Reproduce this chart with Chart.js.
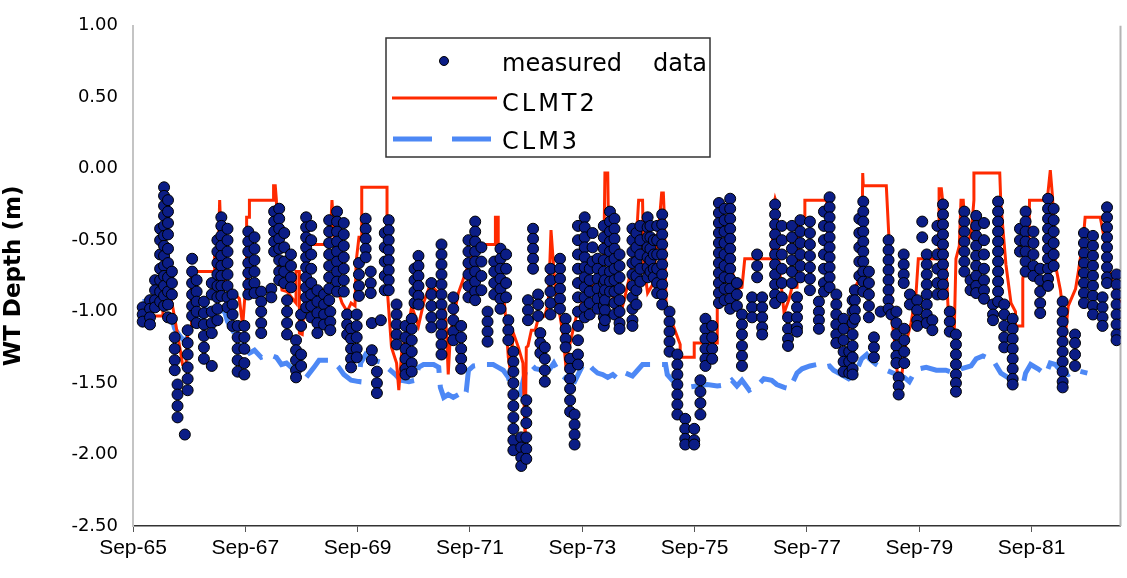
<!DOCTYPE html>
<html>
<head>
<meta charset="utf-8">
<script src="https://cdn.jsdelivr.net/npm/chart.js@4.4.1/dist/chart.umd.min.js"></script>
<style>
  html, body { margin: 0; padding: 0; background: #fff; }
  #wrap { width: 1127px; height: 578px; }
</style>
</head>
<body>
<div id="wrap"><canvas id="wtChart" width="1127" height="578"></canvas></div>
<script>
// x axis ticks (decimal years, Sep of odd years)
const xTickValues = [1965.667, 1967.667, 1969.667, 1971.667, 1973.667, 1975.667, 1977.667, 1979.667, 1981.667];
const xTickLabels = ['Sep-65', 'Sep-67', 'Sep-69', 'Sep-71', 'Sep-73', 'Sep-75', 'Sep-77', 'Sep-79', 'Sep-81'];

// measured data: each row is [year, depth, depth, ...] (observations bunched in time)
const measured1965 = [
  [1965.84, -0.97, -1.02, -1.07],
  [1965.97, -0.92, -0.98, -1.04, -1.09],
  [1966.06, -0.78, -0.85, -0.92, -0.97],
  [1966.15, -0.42, -0.50, -0.60, -0.70, -0.78, -0.86, -0.93],
  [1966.22, -0.13, -0.19, -0.26, -0.33, -0.40, -0.47, -0.54, -0.61, -0.68, -0.75, -0.82, -0.89, -0.96],
  [1966.29, -0.22, -0.30, -0.38, -0.46, -0.56, -0.66, -0.76, -0.86, -0.95, -1.04],
  [1966.36, -0.72, -0.80, -0.88, -1.05],
  [1966.41, -1.18, -1.26, -1.34, -1.41],
  [1966.46, -1.51, -1.58, -1.66, -1.74],
  [1966.59, -1.86],
  [1966.64, -1.13, -1.22, -1.30, -1.39, -1.47, -1.55],
  [1966.72, -0.63, -0.72, -0.80, -0.88, -0.96, -1.03],
  [1966.80, -0.78, -0.86, -0.93, -1.00, -1.08],
  [1966.93, -0.93, -1.01, -1.09, -1.17, -1.25, -1.33],
  [1967.07, -0.80, -0.88, -1.00, -1.08, -1.15, -1.38],
  [1967.17, -0.50, -0.58, -0.66, -0.74, -0.82, -0.90, -0.98, -1.06],
  [1967.24, -0.34, -0.40, -0.47, -0.54, -0.61, -0.68, -0.75, -0.82, -0.89],
  [1967.35, -0.42, -0.50, -0.58, -0.66, -0.74, -0.82, -0.90, -0.97],
  [1967.44, -0.88, -0.95, -1.02, -1.10],
  [1967.53, -1.10, -1.18, -1.26, -1.34, -1.42],
  [1967.65, -1.10, -1.18, -1.26, -1.36, -1.44],
  [1967.72, -0.44, -0.51, -0.58, -0.66, -0.73, -0.81, -0.88],
  [1967.83, -0.48, -0.56, -0.64, -0.72, -0.80, -0.87],
  [1967.95, -0.86, -0.93, -1.00, -1.08, -1.15],
  [1968.13, -0.84, -0.90],
  [1968.18, -0.30, -0.37, -0.44, -0.51, -0.58],
  [1968.27, -0.28, -0.35, -0.42, -0.49, -0.56, -0.64, -0.72, -0.78],
  [1968.36, -0.45, -0.55, -0.65, -0.72, -0.80],
  [1968.41, -0.92, -1.00, -1.08, -1.16],
  [1968.48, -0.60, -0.68, -0.76, -0.83],
  [1968.57, -1.20, -1.27, -1.34, -1.41, -1.46],
  [1968.66, -1.02, -1.10, -1.30, -1.38],
  [1968.75, -0.34, -0.41, -0.48, -0.55, -0.62, -0.69, -0.76, -0.83, -0.90, -0.97],
  [1968.84, -0.40, -0.50, -0.60, -0.70, -0.80, -0.88, -0.96, -1.04],
  [1968.95, -0.85, -0.93, -1.01, -1.08, -1.15],
  [1969.07, -0.88, -0.95, -1.02, -1.09]
];
const measured1969 = [
  [1969.16, -0.36, -0.44, -0.52, -0.60, -0.68, -0.76, -0.84, -0.92],
  [1969.18, -1.00, -1.07, -1.13],
  [1969.30, -0.30, -0.37, -0.44, -0.51, -0.58, -0.65, -0.72, -0.79, -0.86],
  [1969.42, -0.38, -0.46, -0.54, -0.62, -0.70, -0.78, -0.86],
  [1969.48, -1.02, -1.09, -1.16],
  [1969.55, -1.12, -1.19, -1.26, -1.33, -1.39],
  [1969.65, -1.02, -1.10, -1.18, -1.26, -1.32],
  [1969.69, -0.66, -0.74, -0.82, -0.89],
  [1969.81, -0.35, -0.42, -0.49, -0.56, -0.62],
  [1969.90, -0.72, -0.80, -0.87],
  [1969.92, -1.08, -1.27, -1.34],
  [1970.01, -1.42, -1.50, -1.57],
  [1970.08, -1.06],
  [1970.15, -0.45, -0.55, -0.65, -0.75, -0.85],
  [1970.22, -0.36, -0.43, -0.50, -0.57, -0.64, -0.71, -0.78, -0.85],
  [1970.36, -0.95, -1.02, -1.09, -1.16, -1.23],
  [1970.52, -1.10, -1.18, -1.26, -1.33, -1.40, -1.44],
  [1970.63, -1.05, -1.12, -1.20, -1.28, -1.36, -1.42],
  [1970.68, -0.70, -0.78, -0.86, -0.94],
  [1970.75, -0.61, -0.68, -0.75, -0.82, -0.89, -0.95],
  [1970.98, -0.80, -0.88, -0.96, -1.04, -1.11],
  [1971.16, -0.53, -0.60, -0.67, -0.74, -0.81, -0.88, -0.95, -1.02, -1.09, -1.16, -1.23, -1.30],
  [1971.37, -0.90, -0.98, -1.06, -1.14, -1.20],
  [1971.51, -1.10, -1.18, -1.26, -1.33, -1.40],
  [1971.64, -0.50, -0.58, -0.66, -0.74, -0.82, -0.90],
  [1971.76, -0.37, -0.44, -0.51, -0.58, -0.65, -0.72, -0.79, -0.86, -0.92],
  [1971.87, -0.55, -0.65, -0.75, -0.85],
  [1971.98, -1.00, -1.07, -1.14, -1.21],
  [1972.10, -0.65, -0.72, -0.80, -0.88],
  [1972.21, -0.56, -0.63, -0.70, -0.77, -0.84, -0.91, -0.98],
  [1972.31, -0.60, -0.70, -0.80, -0.90],
  [1972.35, -1.06, -1.13, -1.20],
  [1972.44, -1.28, -1.35, -1.42, -1.50, -1.58, -1.66, -1.74, -1.82, -1.90, -1.97],
  [1972.58, -1.88, -1.95, -2.02, -2.08],
  [1972.67, -1.62, -1.70, -1.78, -1.88, -1.96, -2.03],
  [1972.70, -0.92, -0.99, -1.06],
  [1972.79, -0.42, -0.49, -0.56, -0.63, -0.70],
  [1972.88, -0.88, -0.95, -1.03],
  [1972.92, -1.15, -1.22, -1.29],
  [1973.00, -1.25, -1.33, -1.41, -1.49],
  [1973.10, -0.70, -0.78, -0.86, -0.94, -1.02]
];
const measured1973 = [
  [1973.27, -0.63, -0.70, -0.77, -0.84, -0.91, -0.98],
  [1973.37, -1.05, -1.12, -1.19, -1.25],
  [1973.45, -1.33, -1.40, -1.47, -1.54, -1.62, -1.70],
  [1973.53, -1.72, -1.79, -1.86, -1.93],
  [1973.59, -0.40, -0.50, -0.60, -0.70, -0.80, -0.90, -1.00, -1.10, -1.20, -1.30, -1.37],
  [1973.71, -0.34, -0.41, -0.48, -0.55, -0.62, -0.69, -0.76, -0.83, -0.90, -0.97, -1.04],
  [1973.80, -0.70, -0.78, -0.86, -0.94, -1.02],
  [1973.85, -0.45, -0.55, -0.65],
  [1973.94, -0.63, -0.70, -0.77, -0.84, -0.91, -0.98],
  [1974.05, -0.40, -0.48, -0.56, -0.64, -0.72, -0.80, -0.88, -0.96, -1.04, -1.10],
  [1974.07, -0.78, -0.85, -0.92, -0.99, -1.06],
  [1974.16, -0.30, -0.37, -0.44, -0.51, -0.58, -0.65, -0.72, -0.79, -0.86],
  [1974.24, -0.35, -0.42, -0.49, -0.56, -0.63, -0.70, -0.78, -0.86, -0.94, -1.02],
  [1974.33, -0.60, -0.68, -0.76, -0.84, -0.92, -1.00, -1.08, -1.12],
  [1974.56, -0.42, -0.50, -0.58, -0.66, -0.74, -0.82, -0.90, -0.98, -1.06, -1.10],
  [1974.63, -0.45, -0.55, -0.65, -0.75, -0.85, -0.95],
  [1974.70, -0.40, -0.50, -0.60, -0.70, -0.79],
  [1974.83, -0.34, -0.41, -0.48, -0.55, -0.62, -0.69, -0.76],
  [1974.88, -0.40, -0.48, -0.56, -0.64, -0.72],
  [1974.94, -0.50, -0.60, -0.70, -0.76],
  [1975.00, -0.40, -0.50, -0.60, -0.70, -0.80, -0.87],
  [1975.09, -0.32, -0.39, -0.46, -0.53, -0.60, -0.67, -0.74, -0.81, -0.88, -0.95],
  [1975.22, -1.00, -1.07, -1.14, -1.21, -1.28],
  [1975.36, -1.30, -1.37, -1.44, -1.51, -1.58, -1.65, -1.72],
  [1975.50, -1.75, -1.82, -1.89, -1.93],
  [1975.66, -1.82, -1.90, -1.93],
  [1975.77, -1.48, -1.56, -1.64, -1.72],
  [1975.86, -1.05, -1.12, -1.19, -1.26, -1.33, -1.38],
  [1975.98, -1.10, -1.18, -1.26, -1.33],
  [1976.10, -0.24, -0.31, -0.38, -0.45, -0.52, -0.59, -0.66, -0.73, -0.80, -0.87, -0.94],
  [1976.20, -0.28, -0.36, -0.44, -0.52, -0.60, -0.68, -0.76, -0.84, -0.92],
  [1976.30, -0.21, -0.28, -0.35, -0.42, -0.49, -0.56, -0.63, -0.70, -0.77, -0.84, -0.91, -0.98],
  [1976.42, -0.80, -0.88, -0.96],
  [1976.51, -1.02, -1.09, -1.16, -1.24, -1.31, -1.38],
  [1976.69, -0.90, -0.97, -1.04],
  [1976.78, -0.60, -0.68, -0.76],
  [1976.87, -0.90, -0.97, -1.04, -1.11, -1.16],
  [1977.10, -0.25, -0.32, -0.39, -0.46, -0.53, -0.60, -0.67, -0.74, -0.81, -0.88, -0.94],
  [1977.22, -0.40, -0.50, -0.60, -0.70, -0.80, -0.90],
  [1977.33, -1.04, -1.12, -1.19, -1.24],
  [1977.40, -0.40, -0.48, -0.56, -0.64, -0.72, -0.80],
  [1977.49, -0.90, -0.97, -1.04, -1.11, -1.14],
  [1977.55, -0.36, -0.44, -0.52, -0.60, -0.68, -0.76]
];
const measured1977 = [
  [1977.72, -0.37, -0.45, -0.53, -0.61, -0.69, -0.77, -0.85],
  [1977.88, -0.93, -1.00, -1.06, -1.12],
  [1977.97, -0.30, -0.40, -0.50, -0.60, -0.70, -0.80, -0.86],
  [1978.07, -0.20, -0.27, -0.34, -0.41, -0.48, -0.55, -0.62, -0.69, -0.76, -0.83],
  [1978.19, -0.88, -0.95, -1.02, -1.09, -1.16, -1.22],
  [1978.32, -1.05, -1.12, -1.20, -1.28, -1.35, -1.42],
  [1978.42, -1.28, -1.35, -1.43],
  [1978.48, -0.92, -1.00, -1.08, -1.16, -1.24, -1.32, -1.40, -1.44],
  [1978.52, -0.85, -0.92, -0.99, -1.05],
  [1978.60, -0.35, -0.45, -0.55, -0.65, -0.75],
  [1978.67, -0.23, -0.30, -0.37, -0.44, -0.51, -0.58, -0.65, -0.72, -0.79, -0.86],
  [1978.77, -0.72, -0.80, -0.88, -0.96, -1.04],
  [1978.86, -1.18, -1.25, -1.32],
  [1978.98, -1.00],
  [1979.12, -0.50, -0.57, -0.64, -0.71, -0.78, -0.85, -0.92, -0.98],
  [1979.17, -1.02],
  [1979.26, -1.00, -1.08, -1.16, -1.24, -1.31, -1.36],
  [1979.30, -1.46, -1.52, -1.58],
  [1979.39, -0.60, -0.67, -0.74, -0.80],
  [1979.40, -1.12, -1.20, -1.28, -1.36],
  [1979.50, -0.88, -0.95],
  [1979.63, -0.92, -0.99, -1.06, -1.10],
  [1979.72, -0.37, -0.48],
  [1979.80, -0.60, -0.67, -0.74, -0.81, -0.88, -0.95, -1.02, -1.08],
  [1979.90, -1.06, -1.13],
  [1979.99, -0.40, -0.50, -0.60, -0.70, -0.80, -0.88],
  [1980.09, -0.25, -0.32, -0.39, -0.46, -0.53, -0.60, -0.67, -0.74, -0.81, -0.88],
  [1980.21, -1.00, -1.07, -1.14],
  [1980.32, -1.16, -1.23, -1.30, -1.37, -1.44, -1.50, -1.56],
  [1980.47, -0.30, -0.37, -0.44, -0.51, -0.58, -0.65, -0.72],
  [1980.58, -0.78, -0.85],
  [1980.68, -0.33, -0.40, -0.47, -0.54, -0.61, -0.68, -0.75, -0.82, -0.87],
  [1980.82, -0.38, -0.50, -0.60, -0.70, -0.78, -0.85, -0.91],
  [1980.98, -0.95, -1.02, -1.06],
  [1981.07, -0.23, -0.30, -0.37, -0.44, -0.51, -0.58, -0.65, -0.72, -0.79, -0.86, -0.93],
  [1981.18, -0.95, -1.02, -1.10, -1.18, -1.25],
  [1981.33, -1.05, -1.12, -1.19, -1.26, -1.33, -1.40, -1.47, -1.51],
  [1981.46, -0.42, -0.50, -0.58],
  [1981.56, -0.30, -0.37, -0.44, -0.51, -0.58, -0.65, -0.72],
  [1981.70, -0.44, -0.52, -0.60, -0.68, -0.75],
  [1981.82, -0.70, -0.78, -0.86, -0.94, -1.01],
  [1981.96, -0.21, -0.28, -0.35, -0.42, -0.49, -0.56, -0.63, -0.70, -0.77, -0.82],
  [1982.06, -0.28, -0.36, -0.44, -0.52, -0.60, -0.68],
  [1982.22, -0.93, -1.00, -1.07, -1.14, -1.21, -1.28, -1.35, -1.42, -1.49, -1.53],
  [1982.44, -1.16, -1.22, -1.30, -1.38],
  [1982.60, -0.45, -0.52, -0.59, -0.66, -0.73, -0.80, -0.87, -0.94],
  [1982.76, -0.47, -0.54, -0.61, -0.68, -0.75, -0.82, -0.89, -0.96, -1.02],
  [1982.93, -0.90, -0.97, -1.04, -1.10],
  [1983.01, -0.27, -0.34, -0.41, -0.48, -0.55, -0.62, -0.69, -0.76, -0.80],
  [1983.18, -0.74, -0.81, -0.88, -0.95, -1.02, -1.09, -1.16, -1.20]
];

// CLMT2 simulated depth, [year, depth]
const clmt2 = [
  [1965.88, -1.07], [1965.91, -1.03], [1966.20, -1.03], [1966.20, -0.65], [1966.25, -0.65], [1966.32, -0.87],
  [1966.38, -0.98], [1966.50, -1.25], [1966.55, -1.37], [1966.61, -1.37], [1966.64, -1.15], [1966.71, -1.10],
  [1966.71, -0.72], [1967.12, -0.72], [1967.12, -0.60], [1967.19, -0.53], [1967.21, -0.22], [1967.24, -0.53],
  [1967.28, -0.74], [1967.33, -0.83], [1967.42, -0.85], [1967.56, -0.91], [1967.62, -1.10], [1967.65, -0.94],
  [1967.69, -0.77], [1967.69, -0.34], [1967.74, -0.34], [1967.74, -0.22], [1968.17, -0.22], [1968.17, -0.12],
  [1968.20, -0.12], [1968.22, -0.22], [1968.24, -0.60], [1968.32, -0.85], [1968.41, -0.86], [1968.57, -0.94],
  [1968.57, -0.72], [1968.63, -0.72], [1968.63, -1.15], [1968.68, -1.16], [1968.72, -0.94], [1968.80, -0.53],
  [1969.16, -0.53], [1969.19, -0.39], [1969.21, -0.22], [1969.25, -0.50], [1969.33, -0.87], [1969.39, -0.94],
  [1969.48, -1.00], [1969.55, -0.94], [1969.62, -0.96], [1969.64, -0.65], [1969.69, -0.48], [1969.74, -0.48],
  [1969.74, -0.13], [1970.19, -0.13], [1970.19, -0.82], [1970.27, -1.25], [1970.36, -1.36], [1970.40, -1.55],
  [1970.45, -1.29], [1970.58, -1.08], [1970.63, -0.96], [1970.75, -1.10], [1970.84, -0.94], [1970.96, -0.81],
  [1971.11, -0.87], [1971.21, -0.94], [1971.25, -1.15], [1971.28, -1.44], [1971.32, -1.15], [1971.46, -0.87],
  [1971.64, -0.67], [1971.82, -0.53], [1972.12, -0.53], [1972.12, -0.34], [1972.17, -0.34], [1972.17, -0.56],
  [1972.29, -0.98], [1972.35, -1.32], [1972.38, -1.40], [1972.44, -1.15], [1972.53, -1.25], [1972.61, -1.36],
  [1972.65, -1.91], [1972.67, -1.25], [1972.70, -1.24], [1972.76, -1.13], [1972.83, -1.13], [1972.88, -1.05],
  [1973.00, -1.03], [1973.06, -0.94], [1973.09, -0.65], [1973.11, -0.43], [1973.15, -0.65], [1973.20, -0.90],
  [1973.27, -1.03], [1973.32, -1.15], [1973.37, -1.36], [1973.45, -1.22], [1973.53, -1.08], [1973.59, -0.99],
  [1973.76, -0.87], [1973.94, -0.74], [1974.05, -0.63], [1974.07, -0.03], [1974.12, -0.03], [1974.14, -0.63],
  [1974.24, -0.98], [1974.33, -1.05], [1974.44, -0.87], [1974.53, -0.72], [1974.60, -0.52], [1974.65, -0.36],
  [1974.67, -0.22], [1974.74, -0.22], [1974.76, -0.67], [1974.83, -0.87], [1974.92, -0.81], [1975.04, -0.36],
  [1975.08, -0.17], [1975.11, -0.17], [1975.13, -0.36], [1975.16, -1.01], [1975.27, -1.08], [1975.41, -1.23],
  [1975.41, -1.32], [1975.66, -1.32], [1975.66, -1.22], [1976.07, -1.22], [1976.07, -0.79], [1976.14, -0.87],
  [1976.19, -0.94], [1976.25, -0.90], [1976.35, -0.74], [1976.42, -0.84], [1976.51, -0.83], [1976.56, -0.63],
  [1977.04, -0.63], [1977.08, -0.25], [1977.10, -0.21], [1977.13, -0.25], [1977.17, -0.67], [1977.26, -1.01],
  [1977.35, -0.91], [1977.40, -0.83], [1977.49, -0.83], [1977.52, -0.34], [1977.63, -0.34], [1977.63, -0.22],
  [1978.02, -0.22], [1978.05, -0.67], [1978.16, -0.94], [1978.23, -1.07], [1978.41, -1.07], [1978.41, -1.14],
  [1978.50, -0.87], [1978.55, -0.81], [1978.64, -0.74], [1978.66, -0.03], [1978.67, -0.12], [1979.08, -0.12],
  [1979.12, -0.43], [1979.13, -0.50], [1979.17, -1.03], [1979.22, -1.18], [1979.26, -1.38], [1979.31, -1.52],
  [1979.36, -1.43], [1979.43, -1.22], [1979.52, -1.08], [1979.61, -0.87], [1979.65, -0.63], [1980.02, -0.63],
  [1980.02, -0.14], [1980.06, -0.14], [1980.09, -0.25], [1980.14, -0.67], [1980.20, -1.12], [1980.29, -1.14],
  [1980.32, -0.63], [1980.38, -0.54], [1980.41, -0.22], [1980.45, -0.22], [1980.50, -0.53], [1980.59, -0.46],
  [1980.64, -0.22], [1980.64, -0.03], [1981.10, -0.03], [1981.12, -0.25], [1981.21, -0.67], [1981.30, -0.94],
  [1981.38, -1.00], [1981.38, -1.10], [1981.51, -1.10], [1981.51, -0.77], [1981.62, -0.53], [1981.63, -0.22],
  [1981.92, -0.22], [1981.95, -0.20], [1982.00, -0.01], [1982.04, -0.20], [1982.09, -0.67], [1982.18, -0.85],
  [1982.27, -1.15], [1982.32, -0.96], [1982.45, -0.84], [1982.50, -0.72], [1982.59, -0.48], [1982.62, -0.34],
  [1982.89, -0.34], [1982.98, -0.53], [1983.07, -0.74], [1983.16, -0.87], [1983.25, -0.94]
];

// CLM3 simulated depth, [year, depth]
const clm3 = [
  [1965.84, -0.93], [1965.97, -0.92], [1966.23, -0.94], [1966.29, -0.98], [1966.36, -1.05], [1966.41, -1.12],
  [1966.50, -1.17], [1966.59, -1.21], [1966.68, -1.15], [1966.85, -1.08], [1966.98, -0.94], [1967.07, -0.98],
  [1967.30, -1.00], [1967.35, -1.07], [1967.47, -1.15], [1967.65, -1.25], [1967.74, -1.29], [1967.83, -1.27],
  [1967.95, -1.32], [1968.09, -1.30], [1968.22, -1.32], [1968.31, -1.37], [1968.40, -1.36], [1968.54, -1.41],
  [1968.63, -1.44], [1968.75, -1.46], [1968.89, -1.39], [1968.98, -1.34], [1969.16, -1.34], [1969.25, -1.36],
  [1969.33, -1.39], [1969.42, -1.44], [1969.55, -1.48], [1969.69, -1.49], [1969.72, -1.36], [1969.81, -1.30],
  [1969.95, -1.34], [1970.13, -1.36], [1970.22, -1.40], [1970.34, -1.44], [1970.43, -1.48], [1970.58, -1.49],
  [1970.70, -1.48], [1970.75, -1.39], [1970.84, -1.37], [1971.02, -1.37], [1971.11, -1.39], [1971.14, -1.53],
  [1971.20, -1.60], [1971.28, -1.58], [1971.37, -1.60], [1971.46, -1.58], [1971.55, -1.60], [1971.60, -1.56],
  [1971.64, -1.41], [1971.73, -1.38], [1971.90, -1.37], [1972.08, -1.37], [1972.17, -1.39], [1972.26, -1.41],
  [1972.35, -1.46], [1972.40, -1.53], [1972.47, -1.56], [1972.56, -1.58], [1972.61, -1.49], [1972.67, -1.40],
  [1972.76, -1.37], [1972.83, -1.40], [1972.97, -1.41], [1973.09, -1.40], [1973.16, -1.36], [1973.23, -1.41],
  [1973.32, -1.45], [1973.41, -1.48], [1973.53, -1.49], [1973.68, -1.37], [1973.76, -1.36], [1973.85, -1.40],
  [1973.94, -1.43], [1974.03, -1.44], [1974.12, -1.46], [1974.21, -1.44], [1974.30, -1.47], [1974.44, -1.43],
  [1974.56, -1.45], [1974.65, -1.41], [1974.74, -1.37], [1974.92, -1.37], [1975.15, -1.37], [1975.18, -1.44],
  [1975.27, -1.48], [1975.40, -1.51], [1975.54, -1.53], [1975.71, -1.52], [1975.89, -1.51], [1976.07, -1.52],
  [1976.25, -1.51], [1976.33, -1.48], [1976.42, -1.52], [1976.51, -1.48], [1976.64, -1.55], [1976.78, -1.52],
  [1976.90, -1.47], [1977.04, -1.48], [1977.13, -1.51], [1977.26, -1.53], [1977.36, -1.54], [1977.49, -1.43],
  [1977.58, -1.40], [1977.72, -1.38], [1977.84, -1.37], [1977.96, -1.39], [1978.07, -1.38], [1978.14, -1.41],
  [1978.28, -1.44], [1978.41, -1.47], [1978.52, -1.44], [1978.64, -1.33], [1978.73, -1.30], [1978.78, -1.33],
  [1978.90, -1.37], [1979.08, -1.41], [1979.26, -1.44], [1979.40, -1.46], [1979.49, -1.49], [1979.56, -1.44],
  [1979.67, -1.40], [1979.79, -1.39], [1979.97, -1.41], [1980.14, -1.41], [1980.29, -1.43], [1980.41, -1.40],
  [1980.59, -1.38], [1980.68, -1.33], [1980.80, -1.31], [1980.98, -1.34], [1981.12, -1.43], [1981.24, -1.46],
  [1981.38, -1.49], [1981.51, -1.52], [1981.56, -1.43], [1981.65, -1.37], [1981.78, -1.40], [1981.92, -1.44],
  [1982.00, -1.36], [1982.09, -1.37], [1982.22, -1.43], [1982.32, -1.44], [1982.45, -1.41], [1982.66, -1.43]
];

const navy = '#0b1d86';
const red = '#ff2a00';
const blue = '#4d88f5';

const measuredPoints = [];
[].concat(measured1965, measured1969, measured1973, measured1977).forEach(row => {
  row.slice(1).forEach(d => measuredPoints.push({ x: row[0], y: d }));
});
const toXY = arr => arr.map(p => ({ x: p[0], y: p[1] }));

// legend box inside the plot + right border of the plot area
const plotExtras = {
  id: 'plotExtras',
  beforeDatasetsDraw(chart) {
    const { ctx, chartArea } = chart;
    ctx.save();
    ctx.strokeStyle = '#b4b4b4';
    ctx.lineWidth = 2;
    ctx.beginPath();
    ctx.moveTo(chartArea.right, chartArea.top);
    ctx.lineTo(chartArea.right, chartArea.bottom);
    ctx.stroke();
    ctx.restore();
  },
  afterDraw(chart) {
    const ctx = chart.ctx;
    ctx.save();
    ctx.fillStyle = '#fff';
    ctx.fillRect(386, 38, 324, 119);
    ctx.strokeStyle = '#333';
    ctx.lineWidth = 1.5;
    ctx.strokeRect(386, 38, 324, 119);

    // marker
    ctx.beginPath();
    ctx.arc(444, 61, 4.5, 0, Math.PI * 2);
    ctx.fillStyle = navy;
    ctx.fill();
    ctx.lineWidth = 1;
    ctx.strokeStyle = '#000';
    ctx.stroke();

    // red line
    ctx.strokeStyle = red;
    ctx.lineWidth = 3;
    ctx.beginPath();
    ctx.moveTo(392, 98);
    ctx.lineTo(497, 98);
    ctx.stroke();

    // blue dashes
    ctx.strokeStyle = blue;
    ctx.lineWidth = 5;
    ctx.setLineDash([39, 20]);
    ctx.beginPath();
    ctx.moveTo(393, 139);
    ctx.lineTo(491, 139);
    ctx.stroke();
    ctx.setLineDash([]);

    ctx.fillStyle = '#000';
    ctx.font = '24px "DejaVu Sans"';
    ctx.textBaseline = 'alphabetic';
    ctx.fillText('measured', 502, 71);
    ctx.fillText('data', 653, 71);
    ctx.letterSpacing = '3px';
    ctx.fillText('CLMT2', 502, 111);
    ctx.fillText('CLM3', 502, 149);
    ctx.restore();
  }
};

new Chart(document.getElementById('wtChart'), {
  type: 'scatter',
  data: {
    datasets: [
      {
        label: 'measured   data',
        data: measuredPoints,
        pointRadius: 5.5,
        pointBackgroundColor: navy,
        pointBorderColor: '#000',
        pointBorderWidth: 1,
        showLine: false
      },
      {
        label: 'CLMT2',
        data: toXY(clmt2),
        showLine: true,
        borderColor: red,
        borderWidth: 3,
        pointRadius: 0,
        tension: 0
      },
      {
        label: 'CLM3',
        data: toXY(clm3),
        showLine: true,
        borderColor: blue,
        borderWidth: 5,
        borderDash: [30, 12],
        pointRadius: 0,
        tension: 0
      }
    ]
  },
  options: {
    responsive: false,
    animation: false,
    devicePixelRatio: 1,
    layout: { padding: { top: 18, right: 2, left: 0, bottom: 0 } },
    plugins: {
      legend: { display: false },
      tooltip: { enabled: false }
    },
    scales: {
      x: {
        type: 'linear',
        min: 1965.667,
        max: 1983.25,
        afterBuildTicks: axis => { axis.ticks = xTickValues.map(v => ({ value: v })); },
        afterFit: axis => { axis.height = 52; },
        border: { display: true, color: '#333', width: 1.5 },
        grid: { display: true, drawOnChartArea: false, drawTicks: true, tickLength: 6, color: '#555' },
        ticks: {
          autoSkip: false,
          maxRotation: 0,
          padding: 4,
          color: '#000',
          font: { family: '"Liberation Sans", Arial, sans-serif', size: 21 },
          callback: (value, index) => xTickLabels[index]
        }
      },
      y: {
        min: -2.5,
        max: 1.0,
        afterFit: axis => { axis.width = 133; },
        border: { display: true, color: '#c4c4c4', width: 2 },
        grid: { display: false, drawTicks: false },
        ticks: {
          stepSize: 0.5,
          padding: 15,
          color: '#000',
          font: { family: '"DejaVu Sans", sans-serif', size: 18 },
          callback: v => v.toFixed(2)
        },
        title: {
          display: true,
          text: 'WT Depth (m)',
          color: '#000',
          padding: { top: 0, bottom: 0 },
          font: { family: '"DejaVu Sans", sans-serif', size: 23, weight: 'bold' }
        }
      }
    }
  },
  plugins: [plotExtras]
});
</script>
</body>
</html>
